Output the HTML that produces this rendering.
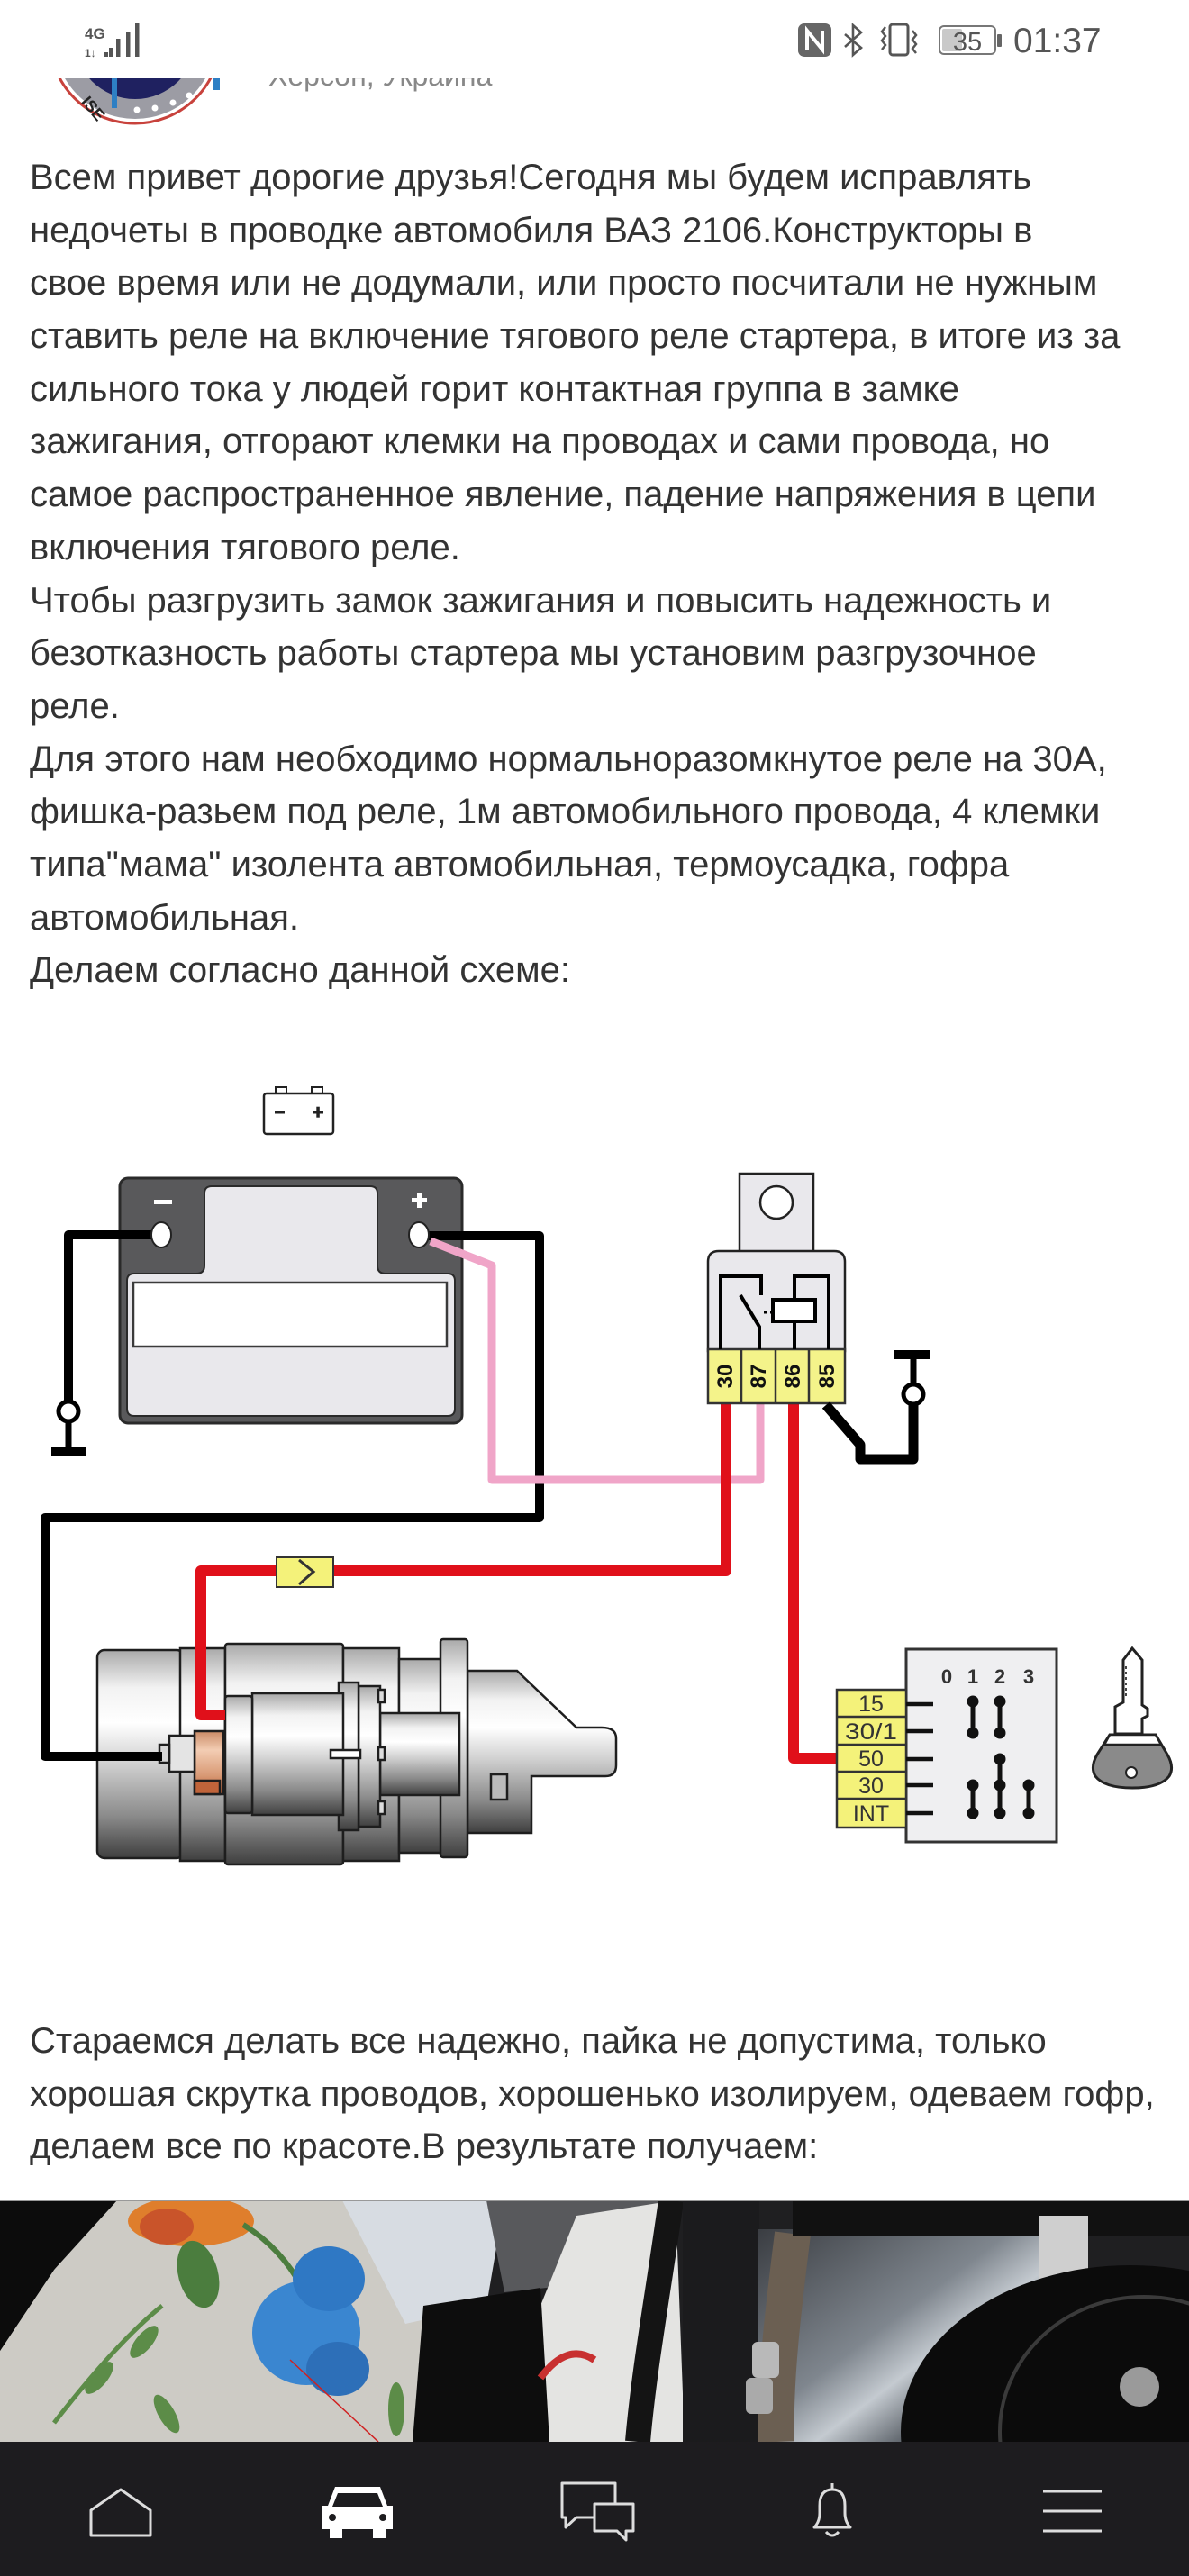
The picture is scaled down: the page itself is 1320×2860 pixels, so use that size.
<!DOCTYPE html>
<html><head><meta charset="utf-8">
<style>
html,body{margin:0;padding:0;background:#fff;}
body{width:1320px;height:2860px;position:relative;overflow:hidden;font-family:"Liberation Sans",Arial,sans-serif;}
.t{position:absolute;left:33px;font-size:40px;line-height:58.7px;color:#333;white-space:nowrap;z-index:2;}
.t div{height:58.7px;}
svg{position:absolute;left:0;top:0;}
</style></head><body>
<svg width="1320" height="2860" viewBox="0 0 1320 2860" xmlns="http://www.w3.org/2000/svg">
<defs>
 <linearGradient id="met" x1="0" y1="0" x2="0" y2="1">
  <stop offset="0" stop-color="#a9a9a9"/>
  <stop offset="0.18" stop-color="#f2f2f2"/>
  <stop offset="0.35" stop-color="#ffffff"/>
  <stop offset="0.55" stop-color="#cfcfcf"/>
  <stop offset="0.8" stop-color="#8a8a8a"/>
  <stop offset="1" stop-color="#3f3f3f"/>
 </linearGradient>
 <linearGradient id="cop" x1="0" y1="0" x2="0" y2="1">
  <stop offset="0" stop-color="#c98a65"/>
  <stop offset="0.3" stop-color="#f3cdb3"/>
  <stop offset="0.7" stop-color="#d99a76"/>
  <stop offset="1" stop-color="#b85a30"/>
 </linearGradient>
 <linearGradient id="foil" x1="0" y1="0" x2="1" y2="1">
  <stop offset="0" stop-color="#3a3d42"/>
  <stop offset="0.45" stop-color="#7f868e"/>
  <stop offset="0.6" stop-color="#c4cad0"/>
  <stop offset="0.75" stop-color="#60666d"/>
  <stop offset="1" stop-color="#2e3034"/>
 </linearGradient>
 <clipPath id="pc"><rect x="0" y="2443" width="1320" height="268"/></clipPath>
</defs>

<!-- avatar (clipped by status bar) -->
<circle cx="150" cy="42" r="95" fill="#fff" stroke="#c8423c" stroke-width="3"/>
<circle cx="150" cy="42" r="90" fill="#9c9ca4"/>
<circle cx="150" cy="42" r="68" fill="#1f2160"/>
<rect x="124" y="60" width="6" height="60" fill="#2e7fc4"/>
<rect x="237" y="60" width="7" height="40" fill="#2e7fc4"/>
<circle cx="152" cy="122" r="3.5" fill="#fff"/><circle cx="172" cy="120" r="3.5" fill="#fff"/><circle cx="192" cy="114" r="3.5" fill="#fff"/><circle cx="210" cy="106" r="3.5" fill="#fff"/>
<text x="92" y="122" font-size="18" font-weight="bold" fill="#222" transform="rotate(50 100 115)">ISE</text>
<text x="298" y="95" font-size="32" fill="#888">Херсон, Украина</text>

<!-- status bar -->
<rect x="0" y="0" width="1320" height="87" fill="#fff"/>
<text x="94" y="43" font-size="17" font-weight="bold" fill="#555">4G</text>
<text x="94" y="63" font-size="12" font-weight="bold" fill="#555">1↓</text>
<rect x="116" y="58" width="4" height="5" fill="#555"/>
<rect x="121" y="53" width="4.5" height="10" fill="#555"/>
<rect x="129" y="43" width="4.5" height="20" fill="#555"/>
<rect x="140" y="35" width="4.5" height="28" fill="#555"/>
<rect x="150" y="26" width="4.5" height="37" fill="#555"/>
<rect x="886" y="26" width="37" height="37" rx="7" fill="#666"/>
<path d="M896,55 V34 L913,55 V34" stroke="#fff" stroke-width="4" fill="none"/>
<path d="M938,38 L956,53 L947,61 V28 L956,36 L938,52" stroke="#555" stroke-width="2.6" fill="none"/>
<rect x="988" y="27" width="20" height="34" rx="3" stroke="#555" stroke-width="3" fill="none"/>
<polyline points="983,30 979,35 983,40 979,45 983,50 979,55" stroke="#555" stroke-width="2.5" fill="none"/>
<polyline points="1013,34 1017,39 1013,44 1017,49 1013,54 1017,59" stroke="#555" stroke-width="2.5" fill="none"/>
<rect x="1043" y="29" width="62" height="31" rx="5" stroke="#777" stroke-width="2" fill="#fff"/>
<rect x="1046" y="32" width="22" height="25" rx="2" fill="#c9c9c9"/>
<text x="1074" y="56" font-size="29" fill="#555" text-anchor="middle">35</text>
<rect x="1107" y="38" width="5" height="14" rx="1" fill="#666"/>
<text x="1125" y="58" font-size="39" fill="#555">01:37</text>

<!-- ============ DIAGRAM ============ -->
<!-- small battery icon -->
<rect x="306" y="1207" width="12" height="9" fill="#fff" stroke="#222" stroke-width="2"/>
<rect x="346" y="1207" width="12" height="9" fill="#fff" stroke="#222" stroke-width="2"/>
<rect x="293" y="1214" width="77" height="45" rx="3" fill="#fff" stroke="#222" stroke-width="2.5"/>
<rect x="305" y="1233" width="11" height="3.5" fill="#222"/>
<rect x="347" y="1233" width="12" height="3.5" fill="#222"/>
<rect x="351.3" y="1228.7" width="3.5" height="12" fill="#222"/>

<!-- battery -->
<rect x="133" y="1308" width="380" height="272" rx="9" fill="#59595b" stroke="#2a2a2a" stroke-width="3"/>
<path d="M227,1325 Q227,1317 235,1317 H411 Q419,1317 419,1325 V1405 Q419,1414 428,1414 H497 Q505,1414 505,1422 V1564 Q505,1572 497,1572 H149 Q141,1572 141,1564 V1422 Q141,1414 149,1414 H218 Q227,1414 227,1405 Z" fill="#e9e8ec" stroke="#2a2a2a" stroke-width="2"/>
<rect x="148" y="1424" width="348" height="71" fill="#fff" stroke="#3a3a3a" stroke-width="2.5"/>
<rect x="171" y="1332" width="20" height="5" fill="#fff"/>
<rect x="457" y="1330" width="17" height="5" fill="#fff"/>
<rect x="463" y="1324" width="5" height="17" fill="#fff"/>

<!-- starter -->
<g stroke="#1e1e1e" stroke-width="2.5">
 <rect x="108" y="1832" width="96" height="231" rx="8" fill="url(#met)"/>
 <rect x="200" y="1830" width="50" height="236" fill="url(#met)"/>
 <rect x="250" y="1825" width="131" height="245" rx="3" fill="url(#met)"/>
 <rect x="381" y="1830" width="62" height="236" fill="url(#met)"/>
 <rect x="443" y="1842" width="50" height="215" fill="url(#met)"/>
 <path d="M519,1855 H574 L640,1918 H668 Q684,1918 684,1930 V1960 Q684,1972 672,1972 H590 V2035 H519 Z" fill="url(#met)"/>
 <rect x="489" y="1820" width="30" height="242" rx="3" fill="url(#met)"/>
 <rect x="545" y="1970" width="18" height="28" fill="#bbb"/>
 <rect x="422" y="1902" width="88" height="91" fill="url(#met)"/>
 <rect x="398" y="1872" width="24" height="156" fill="url(#met)"/>
 <rect x="376" y="1868" width="22" height="164" fill="url(#met)"/>
 <rect x="280" y="1880" width="101" height="135" fill="url(#met)"/>
 <rect x="250" y="1883" width="30" height="130" rx="3" fill="url(#met)"/>
 <rect x="367" y="1943" width="33" height="9" fill="#fff"/>
 <rect x="420" y="1876" width="7" height="14" fill="#ddd"/>
 <rect x="420" y="1940" width="7" height="14" fill="#ddd"/>
 <rect x="420" y="2000" width="7" height="14" fill="#ddd"/>
 <rect x="216" y="1922" width="32" height="70" fill="url(#cop)"/>
 <rect x="216" y="1977" width="28" height="15" fill="#c0643a"/>
 <rect x="188" y="1927" width="28" height="40" fill="#e4e4e4"/>
 <rect x="177" y="1937" width="11" height="20" fill="#d6d6d6"/>
</g>

<!-- wires: black + -->
<path d="M465,1372 H599 V1685 H50 V1950 H180" stroke="#000" stroke-width="10" fill="none" stroke-linejoin="round"/>
<!-- black ground from - -->
<path d="M179,1371 H76 V1556" stroke="#000" stroke-width="10" fill="none" stroke-linejoin="round"/>
<path d="M76,1578 V1610" stroke="#000" stroke-width="7" fill="none"/>
<rect x="57" y="1606" width="39" height="10" fill="#000"/>
<circle cx="76" cy="1567" r="11" fill="#fff" stroke="#000" stroke-width="5"/>

<!-- pink -->
<path d="M478,1378 L546,1405 V1643 H844 V1558" stroke="#f0a5c8" stroke-width="9" fill="none" stroke-linejoin="round"/>

<!-- battery terminals -->
<ellipse cx="179" cy="1371" rx="11" ry="14" fill="#fff" stroke="#222" stroke-width="2"/>
<ellipse cx="465" cy="1371" rx="11" ry="14" fill="#fff" stroke="#222" stroke-width="2"/>

<!-- red wires -->
<path d="M806,1558 V1744 H223 V1904 H250" stroke="#e0101a" stroke-width="12" fill="none" stroke-linejoin="round"/>
<path d="M881,1558 V1952 H930" stroke="#e0101a" stroke-width="12" fill="none" stroke-linejoin="round"/>

<!-- fuse -->
<rect x="307" y="1729" width="63" height="33" fill="#f4f27a" stroke="#333" stroke-width="2"/>
<polyline points="332,1732 348,1745 332,1759" stroke="#333" stroke-width="3" fill="none"/>

<!-- relay -->
<rect x="821" y="1303" width="82" height="90" fill="#e9e8ec" stroke="#222" stroke-width="2.5"/>
<circle cx="862" cy="1335" r="18" fill="#fff" stroke="#222" stroke-width="2.5"/>
<path d="M786,1500 V1401 Q786,1389 798,1389 H926 Q938,1389 938,1401 V1500 Z" fill="#e9e8ec" stroke="#222" stroke-width="2.5"/>
<rect x="786" y="1498" width="152" height="60" fill="#f4f38a" stroke="#333" stroke-width="2.5"/>
<line x1="823" y1="1498" x2="823" y2="1558" stroke="#333" stroke-width="2.5"/>
<line x1="861" y1="1498" x2="861" y2="1558" stroke="#333" stroke-width="2.5"/>
<line x1="898" y1="1498" x2="898" y2="1558" stroke="#333" stroke-width="2.5"/>
<g stroke="#000" stroke-width="4" fill="none">
 <path d="M800,1498 V1417 H845 V1438"/>
 <path d="M822,1438 L843,1473 V1498"/>
 <path d="M882,1498 V1417 H920 V1498"/>
</g>
<line x1="848" y1="1457" x2="858" y2="1457" stroke="#000" stroke-width="3" stroke-dasharray="4,3"/>
<rect x="858" y="1443" width="47" height="24" fill="#fff" stroke="#000" stroke-width="4"/>
<g font-size="24" font-weight="bold" fill="#111" text-anchor="middle">
 <text x="805" y="1536" transform="rotate(-90 805 1528)">30</text>
 <text x="842" y="1536" transform="rotate(-90 842 1528)">87</text>
 <text x="880" y="1536" transform="rotate(-90 880 1528)">86</text>
 <text x="918" y="1536" transform="rotate(-90 918 1528)">85</text>
</g>

<!-- black from 85 to ground -->
<path d="M917,1560 L955,1604 V1620 H1014 V1560" stroke="#000" stroke-width="11" fill="none" stroke-linejoin="round"/>
<path d="M1014,1536 V1505" stroke="#000" stroke-width="7"/>
<rect x="993" y="1499" width="39" height="10" fill="#000"/>
<circle cx="1014" cy="1548" r="11" fill="#fff" stroke="#000" stroke-width="5"/>

<!-- ignition switch -->
<rect x="1006" y="1831" width="167" height="214" fill="#efeff1" stroke="#333" stroke-width="3"/>
<rect x="929" y="1876" width="77" height="153" fill="#f4f27a" stroke="#333" stroke-width="2.5"/>
<g stroke="#333" stroke-width="2.5">
 <line x1="929" y1="1906" x2="1006" y2="1906"/>
 <line x1="929" y1="1937" x2="1006" y2="1937"/>
 <line x1="929" y1="1967" x2="1006" y2="1967"/>
 <line x1="929" y1="1997" x2="1006" y2="1997"/>
</g>
<g font-size="25" fill="#333" text-anchor="middle">
 <text x="967" y="1900">15</text>
 <text x="967" y="1931" textLength="58" lengthAdjust="spacingAndGlyphs">30/1</text>
 <text x="967" y="1961">50</text>
 <text x="967" y="1991">30</text>
 <text x="967" y="2022">INT</text>
</g>
<g stroke="#111" stroke-width="4.5">
 <line x1="1006" y1="1892" x2="1036" y2="1892"/>
 <line x1="1006" y1="1922" x2="1036" y2="1922"/>
 <line x1="1006" y1="1953" x2="1036" y2="1953"/>
 <line x1="1006" y1="1982" x2="1036" y2="1982"/>
 <line x1="1006" y1="2013" x2="1036" y2="2013"/>
</g>
<g font-size="22" font-weight="bold" fill="#333" text-anchor="middle">
 <text x="1051" y="1869">0</text><text x="1080" y="1869">1</text><text x="1110" y="1869">2</text><text x="1142" y="1869">3</text>
</g>
<g stroke="#111" stroke-width="5" fill="#111">
 <line x1="1080" y1="1889" x2="1080" y2="1924"/>
 <line x1="1110" y1="1889" x2="1110" y2="1924"/>
 <line x1="1080" y1="1982" x2="1080" y2="2013"/>
 <line x1="1110" y1="1953" x2="1110" y2="2013"/>
 <line x1="1142" y1="1982" x2="1142" y2="2013"/>
</g>
<g fill="#111">
 <circle cx="1080" cy="1889" r="6.5"/><circle cx="1080" cy="1924" r="6.5"/>
 <circle cx="1110" cy="1889" r="6.5"/><circle cx="1110" cy="1924" r="6.5"/>
 <circle cx="1110" cy="1953" r="6.5"/><circle cx="1110" cy="1982" r="6.5"/><circle cx="1110" cy="2013" r="6.5"/>
 <circle cx="1080" cy="1982" r="6.5"/><circle cx="1080" cy="2013" r="6.5"/>
 <circle cx="1142" cy="1982" r="6.5"/><circle cx="1142" cy="2013" r="6.5"/>
</g>

<!-- key -->
<path d="M1247,1843 L1257,1830 L1268,1843 V1893 L1274,1897 V1905 L1268,1908 V1925 H1238 V1895 L1247,1890 Z" fill="#fff" stroke="#222" stroke-width="3"/>
<path d="M1250,1850 V1885" stroke="#444" stroke-width="2" stroke-dasharray="3,3"/>
<path d="M1232,1926 H1283 L1296,1948 Q1304,1962 1298,1972 Q1288,1985 1257,1985 Q1226,1985 1216,1972 Q1210,1962 1218,1948 Z" fill="#8a8a8a" stroke="#222" stroke-width="3"/>
<path d="M1232,1926 H1283 L1289,1937 H1226 Z" fill="#fff" stroke="#222" stroke-width="2.5"/>
<circle cx="1256" cy="1968" r="6" fill="#fff" stroke="#222" stroke-width="2"/>

<!-- ============ PHOTO ============ -->
<g clip-path="url(#pc)">
 <rect x="0" y="2443" width="1320" height="268" fill="#1f1f21"/>
 <polygon points="120,2443 560,2443 520,2560 480,2711 0,2711 0,2610 60,2520" fill="#cdcbc5"/>
 <polygon points="380,2443 560,2443 540,2560 450,2580" fill="#d7dce2"/>
 <polygon points="0,2443 130,2443 60,2520 0,2610" fill="#0c0c0c"/>
 <ellipse cx="212" cy="2466" rx="70" ry="28" fill="#df7e2c"/>
 <ellipse cx="185" cy="2472" rx="30" ry="20" fill="#c9542a"/>
 <ellipse cx="220" cy="2525" rx="22" ry="38" fill="#4b7d3e" transform="rotate(-15 220 2525)"/>
 <path d="M270,2470 Q320,2500 345,2560" stroke="#4b7d3e" stroke-width="6" fill="none"/>
 <path d="M60,2690 Q130,2600 180,2560" stroke="#5c8c48" stroke-width="5" fill="none"/>
 <ellipse cx="110" cy="2640" rx="9" ry="22" fill="#5c8c48" transform="rotate(40 110 2640)"/>
 <ellipse cx="160" cy="2600" rx="9" ry="22" fill="#5c8c48" transform="rotate(40 160 2600)"/>
 <ellipse cx="185" cy="2680" rx="9" ry="24" fill="#5c8c48" transform="rotate(-30 185 2680)"/>
 <ellipse cx="440" cy="2675" rx="9" ry="30" fill="#5c8c48"/>
 <ellipse cx="340" cy="2590" rx="60" ry="58" fill="#3a86d0"/>
 <ellipse cx="365" cy="2530" rx="40" ry="36" fill="#2f78c4"/>
 <ellipse cx="375" cy="2630" rx="35" ry="30" fill="#2d6fb8"/>
 <line x1="322" y1="2620" x2="420" y2="2711" stroke="#d02020" stroke-width="1.5"/>
 <polygon points="540,2443 750,2443 700,2530 560,2545" fill="#58595c"/>
 <polygon points="640,2460 750,2443 760,2711 600,2711 600,2560" fill="#e4e4e2"/>
 <polygon points="470,2560 600,2540 610,2711 458,2711" fill="#0d0d0d"/>
 <path d="M600,2640 Q630,2600 660,2620" stroke="#c83030" stroke-width="8" fill="none"/>
 <path d="M745,2443 C730,2550 715,2630 708,2711" stroke="#141414" stroke-width="28" fill="none"/>
 <rect x="758" y="2443" width="85" height="268" fill="#1b1b1d"/>
 <rect x="842" y="2475" width="315" height="236" fill="url(#foil)"/>
 <path d="M880,2480 C870,2560 860,2640 862,2711" stroke="#6b5f52" stroke-width="40" fill="none"/>
 <rect x="835" y="2600" width="30" height="40" rx="6" fill="#b9b9b9"/>
 <rect x="828" y="2640" width="30" height="40" rx="6" fill="#aaaaaa"/>
 <rect x="880" y="2443" width="440" height="40" fill="#111"/>
 <rect x="1153" y="2460" width="55" height="90" fill="#cfcfcf"/>
 <ellipse cx="1255" cy="2700" rx="255" ry="185" fill="#0b0b0b"/>
 <ellipse cx="1270" cy="2700" rx="160" ry="150" fill="none" stroke="#3a3a3a" stroke-width="4"/>
 <circle cx="1265" cy="2650" r="22" fill="#9a9a9a"/>
 <line x1="0" y1="2443" x2="1320" y2="2443" stroke="#999" stroke-width="2"/>
</g>

<!-- ============ NAV ============ -->
<rect x="0" y="2711" width="1320" height="149" fill="#1d1c1f"/>
<path d="M134,2764 L167,2787 V2815 H101 V2787 Z" stroke="#ddd" stroke-width="3" fill="none" stroke-linejoin="round"/>
<path d="M372,2761 H422 L430,2782 H436 V2808 H428 V2818 H414 V2808 H380 V2818 H366 V2808 H358 V2782 H364 Z" fill="#fff"/>
<polygon points="375,2768 419,2768 425,2783 369,2783" fill="#1d1c1f"/>
<circle cx="369" cy="2795" r="4" fill="#1d1c1f"/><circle cx="425" cy="2795" r="4" fill="#1d1c1f"/>
<path d="M624,2757 H683 V2795 H640 L628,2806 V2795 H624 Z" stroke="#ddd" stroke-width="3" fill="none" stroke-linejoin="round"/>
<path d="M660,2780 H703 V2810 H695 V2820 L685,2810 H660 Z" fill="#1d1c1f" stroke="#ddd" stroke-width="3" stroke-linejoin="round"/>
<path d="M924,2757 V2763 M904,2806 Q910,2800 910,2790 V2782 Q910,2764 924,2764 Q938,2764 938,2782 V2790 Q938,2800 944,2806 Z M917,2811 Q924,2819 931,2811" stroke="#ddd" stroke-width="3" fill="none" stroke-linejoin="round"/>
<g stroke="#ddd" stroke-width="3">
 <line x1="1158" y1="2766" x2="1223" y2="2766"/>
 <line x1="1158" y1="2788" x2="1223" y2="2788"/>
 <line x1="1158" y1="2810" x2="1223" y2="2810"/>
</g>
</svg>

<div class="t" style="top:168px">
<div>Всем привет дорогие друзья!Сегодня мы будем исправлять</div>
<div>недочеты в проводке автомобиля ВАЗ 2106.Конструкторы в</div>
<div>свое время или не додумали, или просто посчитали не нужным</div>
<div>ставить реле на включение тягового реле стартера, в итоге из за</div>
<div>сильного тока у людей горит контактная группа в замке</div>
<div>зажигания, отгорают клемки на проводах и сами провода, но</div>
<div>самое распространенное явление, падение напряжения в цепи</div>
<div>включения тягового реле.</div>
<div>Чтобы разгрузить замок зажигания и повысить надежность и</div>
<div>безотказность работы стартера мы установим разгрузочное</div>
<div>реле.</div>
<div>Для этого нам необходимо нормальноразомкнутое реле на 30А,</div>
<div>фишка-разьем под реле, 1м автомобильного провода, 4 клемки</div>
<div>типа"мама" изолента автомобильная, термоусадка, гофра</div>
<div>автомобильная.</div>
<div>Делаем согласно данной схеме:</div>
</div>

<div class="t" style="top:2237px">
<div>Стараемся делать все надежно, пайка не допустима, только</div>
<div>хорошая скрутка проводов, хорошенько изолируем, одеваем гофр,</div>
<div>делаем все по красоте.В результате получаем:</div>
</div>
</body></html>
